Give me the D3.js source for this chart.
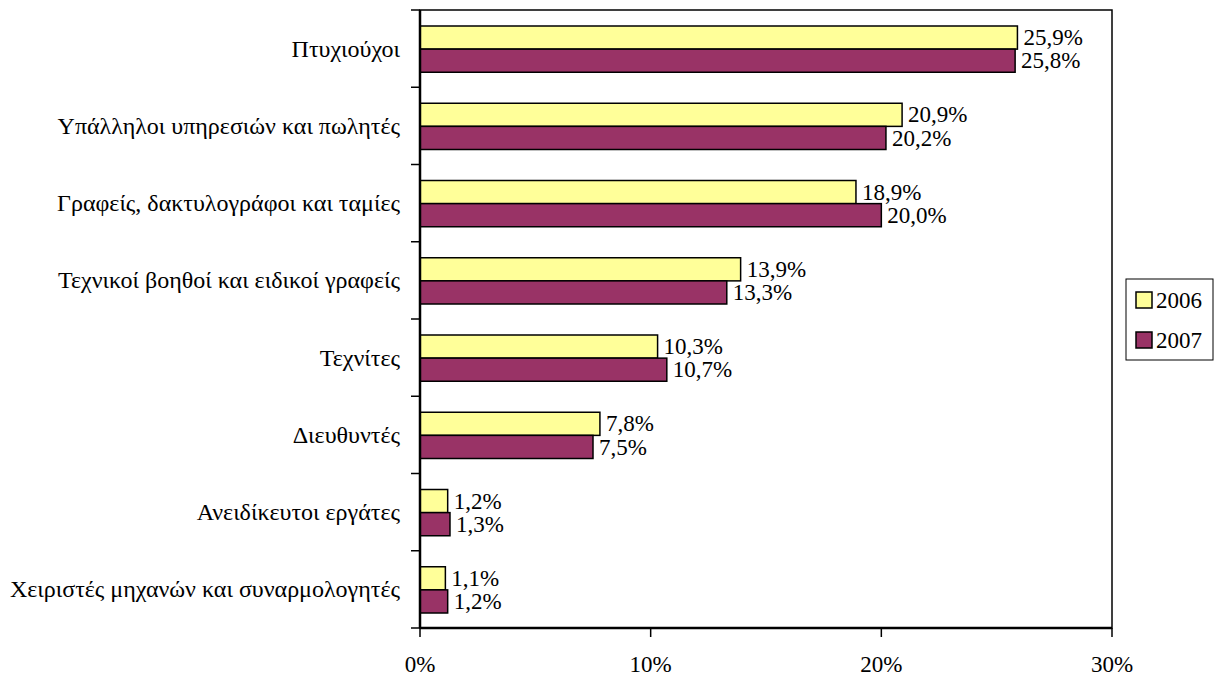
<!DOCTYPE html>
<html>
<head>
<meta charset="utf-8">
<script src="https://cdn.jsdelivr.net/npm/d3@7"></script>
<style>
  html, body { margin: 0; padding: 0; background: #fff; overflow: hidden; }
  svg { display: block; }
</style>
</head>
<body>
<svg id="chart" width="1215" height="675"></svg>
<script>
// categories, top to bottom
const categories = [
  'Πτυχιούχοι',
  'Υπάλληλοι υπηρεσιών και πωλητές',
  'Γραφείς, δακτυλογράφοι και ταμίες',
  'Τεχνικοί βοηθοί και ειδικοί γραφείς',
  'Τεχνίτες',
  'Διευθυντές',
  'Ανειδίκευτοι εργάτες',
  'Χειριστές μηχανών και συναρμολογητές'
];
const seriesNames = ['2006', '2007'];
const values2006 = [25.9, 20.9, 18.9, 13.9, 10.3, 7.8, 1.2, 1.1];
const values2007 = [25.8, 20.2, 20.0, 13.3, 10.7, 7.5, 1.3, 1.2];
const xTicks = [0, 10, 20, 30];
const colors = ['#FFFF99', '#993366'];

const FONT = "'Liberation Serif'";
const FS = 23;

const svg = d3.select('#chart');
const plot = { left: 420, right: 1112, top: 10, bottom: 628 };

const x = d3.scaleLinear().domain([0, 30]).range([plot.left, plot.right]);
const y = d3.scaleBand().domain(categories).range([plot.top, plot.bottom]).padding(0);
const inner = d3.scaleBand().domain(seriesNames)
  .range([16, y.bandwidth() - 15]).padding(0);

const fmt = v => v.toFixed(1).replace('.', ',') + '%';

const rows = categories.map((c, i) => ({
  cat: c,
  vals: [
    { s: seriesNames[0], v: values2006[i], color: colors[0] },
    { s: seriesNames[1], v: values2007[i], color: colors[1] }
  ]
}));

// plot border (top / right)
svg.append('rect')
  .attr('x', plot.left).attr('y', plot.top)
  .attr('width', plot.right - plot.left).attr('height', plot.bottom - plot.top)
  .attr('fill', 'none').attr('stroke', '#000').attr('stroke-width', 1.5);

const groups = svg.selectAll('.grp')
  .data(rows)
  .enter()
  .append('g')
  .attr('class', 'grp')
  .attr('transform', d => `translate(0,${y(d.cat)})`);

groups.selectAll('rect')
  .data(d => d.vals)
  .enter()
  .append('rect')
  .attr('x', x(0))
  .attr('y', d => inner(d.s))
  .attr('width', d => x(d.v) - x(0))
  .attr('height', inner.bandwidth())
  .attr('fill', d => d.color)
  .attr('stroke', '#000')
  .attr('stroke-width', 1.5);

groups.selectAll('text.val')
  .data(d => d.vals)
  .enter()
  .append('text')
  .attr('class', 'val')
  .style('font-family', FONT)
  .style('font-size', FS + 'px')
  .attr('x', d => x(d.v) + 6)
  .attr('y', d => inner(d.s) + inner.bandwidth() / 2)
  .attr('dy', '0.33em')
  .text(d => fmt(d.v));

// y axis
const yAxis = svg.append('g').attr('transform', `translate(${plot.left},0)`);
yAxis.append('line')
  .attr('y1', plot.top).attr('y2', plot.bottom)
  .attr('stroke', '#000').attr('stroke-width', 2.5);
yAxis.selectAll('line.tk')
  .data(d3.range(categories.length + 1))
  .enter()
  .append('line')
  .attr('class', 'tk')
  .attr('x1', -9).attr('x2', 0)
  .attr('y1', i => plot.top + i * y.step())
  .attr('y2', i => plot.top + i * y.step())
  .attr('stroke', '#000').attr('stroke-width', 1.5);
yAxis.selectAll('text')
  .data(categories)
  .enter()
  .append('text')
  .style('font-family', FONT)
  .style('font-size', '24px')
  .attr('x', -20)
  .attr('y', d => y(d) + y.bandwidth() / 2)
  .attr('dy', '0.33em')
  .attr('text-anchor', 'end')
  .text(d => d);

// x axis
const xAxis = svg.append('g').attr('transform', `translate(0,${plot.bottom})`);
xAxis.append('line')
  .attr('x1', plot.left).attr('x2', plot.right)
  .attr('stroke', '#000').attr('stroke-width', 2.5);
xAxis.selectAll('line.tk')
  .data(xTicks)
  .enter()
  .append('line')
  .attr('class', 'tk')
  .attr('x1', d => x(d)).attr('x2', d => x(d))
  .attr('y1', 0).attr('y2', 9)
  .attr('stroke', '#000').attr('stroke-width', 1.5);
xAxis.selectAll('text')
  .data(xTicks)
  .enter()
  .append('text')
  .style('font-family', FONT)
  .style('font-size', FS + 'px')
  .attr('x', d => x(d))
  .attr('y', 36)
  .attr('dy', '0.33em')
  .attr('text-anchor', 'middle')
  .text(d => d + '%');

// legend
const legend = svg.append('g').attr('transform', 'translate(1126,279)');
legend.append('rect')
  .attr('width', 87).attr('height', 81)
  .attr('fill', '#fff').attr('stroke', '#000').attr('stroke-width', 1);
const items = legend.selectAll('g.item')
  .data(seriesNames)
  .enter()
  .append('g')
  .attr('class', 'item')
  .attr('transform', (d, i) => `translate(10,${21 + i * 40})`);
items.append('rect')
  .attr('x', 0).attr('y', -8)
  .attr('width', 16).attr('height', 16)
  .attr('fill', (d, i) => colors[i])
  .attr('stroke', '#000').attr('stroke-width', 1.5);
items.append('text')
  .style('font-family', FONT)
  .style('font-size', FS + 'px')
  .attr('x', 20)
  .attr('dy', '0.33em')
  .text(d => d);
</script>
</body>
</html>
